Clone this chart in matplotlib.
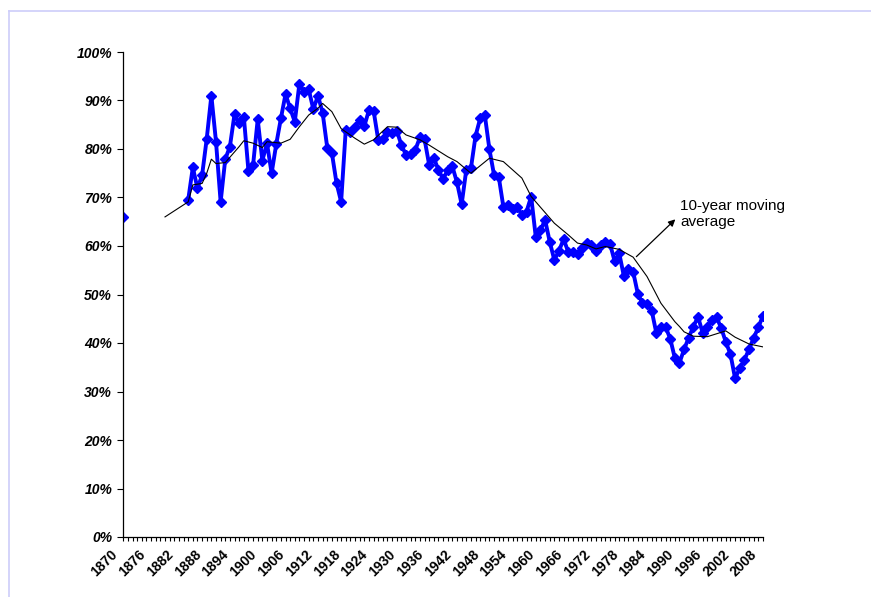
import numpy as np
import matplotlib
matplotlib.use('Agg')
from matplotlib import pyplot as plt
from matplotlib.lines import Line2D
from matplotlib.transforms import ScaledTranslation

plt.rcParams['font.family'] = ['Liberation Sans', 'DejaVu Sans']

# Share of the series, % (1870 stands alone, then a gap until 1884)
first_year = 1870
first_value = 66.0
years = list(range(1884, 2009))
values = [
    69.5, 76.2, 71.9, 74.6, 82.1, 91.0, 81.5, 69.1, 77.9, 80.5,   # 1884-1893
    87.2, 85.3, 86.7, 75.5, 76.7, 86.1, 77.6, 81.2, 75.0, 81.0,   # 1894-1903
    86.3, 91.3, 88.4, 85.6, 93.5, 91.8, 92.3, 88.2, 91.0, 87.5,   # 1904-1913
    80.3, 79.2, 73.0, 69.1, 84.0, 83.6, 84.6, 86.0, 84.7, 88.0,   # 1914-1923
    87.9, 81.9, 82.0, 83.6, 83.4, 83.8, 80.8, 78.8, 79.0, 79.8,   # 1924-1933
    82.4, 82.0, 76.7, 78.1, 75.7, 73.8, 75.7, 76.4, 73.1, 68.6,   # 1934-1943
    75.7, 76.0, 82.7, 86.3, 87.0, 79.9, 74.6, 74.3, 68.1, 68.5,   # 1944-1953
    67.6, 68.1, 66.4, 67.1, 70.2, 61.8, 63.2, 65.4, 60.9, 57.1,   # 1954-1963
    59.0, 61.4, 58.8, 58.8, 58.4, 59.5, 60.6, 60.2, 59.0, 60.2,   # 1964-1973
    60.9, 60.5, 56.9, 58.5, 53.8, 55.3, 54.7, 50.2, 48.2, 48.0,   # 1974-1983
    46.7, 42.1, 43.4, 43.3, 40.9, 36.9, 35.9, 38.7, 41.1, 43.4,   # 1984-1993
    45.4, 42.1, 43.2, 44.7, 45.3, 43.1, 40.2, 37.7, 32.7, 34.8,   # 1994-2003
    36.5, 38.7, 41.0, 43.2, 45.6,                                 # 2004-2008
]

# 10-year moving average
ma_years = [1879, 1884, 1885, 1887, 1888, 1889, 1890, 1892, 1894, 1895,
            1896, 1898, 1900, 1901, 1904, 1906, 1908, 1910, 1912, 1913,
            1915, 1917, 1920, 1922, 1924, 1927, 1929, 1931, 1934, 1936,
            1940, 1942, 1945, 1949, 1952, 1956, 1958, 1963, 1966, 1968,
            1970, 1972, 1974, 1977, 1980, 1983, 1986, 1989, 1990, 1991,
            1993, 1996, 1998, 2000, 2002, 2005, 2008]
ma_values = [66.0, 69.1, 72.6, 72.9, 75.0, 77.9, 77.0, 77.2, 79.4, 80.5,
             81.7, 81.2, 80.3, 81.5, 81.2, 82.0, 84.6, 87.0, 88.4, 89.4,
             87.7, 84.2, 82.2, 81.0, 81.9, 84.6, 84.5, 82.9, 81.9, 80.8,
             78.4, 77.4, 75.0, 78.1, 77.4, 74.0, 70.2, 64.7, 62.3, 60.6,
             60.2, 59.4, 59.9, 59.3, 57.7, 53.7, 48.2, 44.4, 43.4, 42.3,
             41.4, 41.3, 41.9, 42.5, 41.2, 39.8, 39.2]

label_years = list(range(1870, 2009, 6))
y_ticks = list(range(0, 101, 10))

fig = plt.figure(figsize=(8.71, 5.97), dpi=100)
ax = fig.add_axes([123.3 / 871, 1 - 537 / 597, 639.6 / 871, 485 / 597])

# light frame of the original document
top = 1 - 11 / 597
left = 9 / 871
fig.add_artist(Line2D([left, 1], [top, top], transform=fig.transFigure, color='#cdcdfa', lw=1.2))
fig.add_artist(Line2D([left, left], [0, top], transform=fig.transFigure, color='#cdcdfa', lw=1.2))

ax.plot([first_year], [first_value], 'D', color='#0000ff', markersize=5.4)
ax.plot(years, values, '-D', color='#0000ff', lw=2.8, markersize=5.4)
ax.plot(ma_years, ma_values, color='black', lw=0.8)

ax.annotate('', xy=(1989.1, 65.5), xytext=(1980.7, 57.8),
            arrowprops=dict(arrowstyle='-|>', color='black', lw=0.9,
                            mutation_scale=10, shrinkA=0, shrinkB=0))
ax.text(1990.2, 66.6, '10-year moving\naverage', fontsize=11, ha='left', va='center',
        linespacing=1.25)

ax.set_xlim(1870, 2008)
ax.set_ylim(0, 100)
ax.set_xticks(range(1870, 2009))
ax.set_xticklabels([])
# slanted year labels placed by hand, a bit down-left of their tick
lbl_trans = ax.get_xaxis_transform() + ScaledTranslation(-8 / 100, -15 / 100, fig.dpi_scale_trans)
for y in label_years:
    ax.text(y, 0, str(y), transform=lbl_trans, rotation=45, ha='right', va='center',
            rotation_mode='anchor', fontsize=10, fontweight='bold')
ax.set_yticks(y_ticks)
ax.set_yticklabels([f'{v}%' for v in y_ticks], fontsize=10, fontweight='bold', style='italic')
ax.tick_params(axis='x', length=3, width=0.8)
ax.tick_params(axis='y', length=4, width=0.8, pad=4)

for side in ['top', 'right']:
    ax.spines[side].set_visible(False)
for side in ['left', 'bottom']:
    ax.spines[side].set_linewidth(0.9)

fig.savefig('out.png', dpi=100)
